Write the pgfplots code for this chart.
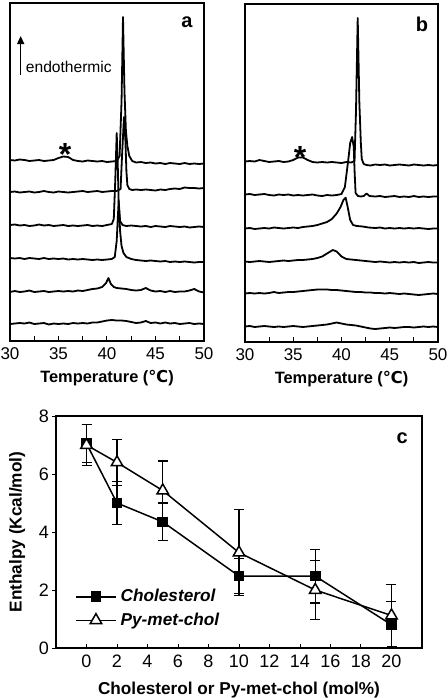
\documentclass[border=0pt]{standalone}
\usepackage{fontspec}
\setmainfont{Liberation Sans}
\newfontfamily\dejavu{DejaVu Sans}
\usepackage{pgfplots}
\pgfplotsset{compat=1.18}
\usetikzlibrary{arrows.meta}

\begin{document}
\begin{tikzpicture}
\useasboundingbox (0,0) rectangle (224pt,-349pt);
\pgfplotsset{
 dsc/.style={scale only axis, width=97pt, height=169pt, xmin=30, xmax=50, ymin=0, ymax=338,
  xtick={30,35,40,45,50}, minor xtick={32.5,37.5,42.5,47.5}, ytick=\empty, xtick pos=bottom,
  tick align=inside, major tick length=2.5pt, minor tick length=2.5pt,
  axis line style={line width=0.6pt}, every tick/.style={line width=0.5pt, black},
  tick label style={font=\fontsize{8.5}{10}\selectfont}, /pgf/number format/assume math mode=true,
  xlabel={\textbf{Temperature ({\dejavu\bfseries ℃})}}, xlabel style={font=\fontsize{8.2}{10}\selectfont, yshift=2pt},
  every axis plot post/.append style={black, solid, line width=0.9pt, line join=round, mark=none}},
}
% ---------------- panel a
\begin{axis}[dsc, at={(5pt,-170.5pt)}, anchor=south west]
\addplot coordinates {(30,181) (30.5,180.5) (31,181.5) (31.5,181) (32,180) (32.5,180.5) (33,181) (33.5,180) (34,180.5) (34.5,181) (35,183) (35.5,184.5) (36,184) (36.5,181) (37,180) (37.5,179.5) (38,180.5) (38.5,180) (39,179.5) (39.5,180) (40,179) (40.5,179.5) (41,180) (41.3,185) (41.5,240) (41.65,324) (41.8,250) (41.95,210) (42.1,195) (42.3,185) (42.6,180) (43,178.5) (43.5,179) (44,178) (44.5,178.5) (45,177.5) (45.5,178) (46,177) (46.5,178) (47,177.5) (47.5,177) (48,178) (48.5,177) (49,177.5) (49.5,177) (50,177.5)};
\addplot coordinates {(30,149) (30.5,149.5) (31,148.5) (31.5,149) (32,149.5) (32.5,148.5) (33,149) (33.5,150) (34,149) (34.5,148.5) (35,149.5) (35.5,149) (36,148.5) (36.5,149) (37,149.5) (37.5,150) (38,149) (38.5,149.5) (39,150) (39.5,149) (40,149.5) (40.5,150) (41,150) (41.4,152) (41.55,185) (41.75,224) (41.9,200) (42.0,170) (42.1,156) (42.3,152) (42.6,151) (43,151.5) (43.5,151) (44,151.5) (44.5,151) (45,150.5) (45.5,151.5) (46,151) (46.5,152) (47,152.5) (47.5,152) (48,153.5) (48.5,153) (49,153) (49.5,152.5) (50,153)};
\addplot coordinates {(30,116) (30.5,116.5) (31,115.5) (31.5,116) (32,115) (32.5,115.5) (33,116.5) (33.5,115.5) (34,116) (34.5,115) (35,115.5) (35.5,116) (36,115) (36.5,115.5) (37,115) (37.5,115.5) (38,116) (38.5,115) (39,115.5) (39.5,115) (40,116) (40.5,117) (40.7,122) (40.85,160) (41.0,208) (41.1,180) (41.2,140) (41.35,120) (41.6,116) (42,115) (42.5,115.5) (43,115) (43.5,114.5) (44,115) (44.5,114) (45,115) (45.5,114.5) (46,114) (46.5,115) (47,114.5) (47.5,114) (48,114.5) (48.5,113.5) (49,114) (49.5,114.5) (50,114)};
\addplot coordinates {(30,83) (30.5,82.5) (31,83) (31.5,82) (32,83) (32.5,82.5) (33,82) (33.5,83) (34,82) (34.5,82.5) (35,82) (35.5,82.5) (36,81.5) (36.5,82) (37,81.5) (37.5,82) (38,81.5) (38.5,81) (39,81.5) (39.5,81) (40,81.5) (40.5,82) (40.8,84) (41.0,100) (41.2,140) (41.35,110) (41.5,95) (41.7,88) (42,84) (42.5,82) (43,81) (43.5,80.5) (44,80) (44.5,80.5) (45,80) (45.5,79.5) (46,80) (46.5,79) (47,79.5) (47.5,79) (48,79.5) (48.5,79) (49,78.5) (49.5,79) (50,79)};
\addplot coordinates {(30,49) (30.5,50) (31,49) (31.5,49.5) (32,50.5) (32.5,49) (33,49.5) (33.5,50) (34,49) (34.5,49.5) (35,50) (35.5,49.5) (36,50) (36.5,49.5) (37,50.5) (37.5,50) (38,51) (38.5,52) (39,52.5) (39.5,54) (39.9,58) (40.15,63) (40.4,57) (40.7,54) (41,53) (41.5,52.5) (42,52) (42.5,51) (43,50.5) (43.5,51) (44,53) (44.5,50.5) (45,49.5) (45.5,50) (46,49) (46.5,50) (47,49) (47.5,49.5) (48,49.5) (48.5,50.5) (49,52) (49.5,49.5) (50,48.5)};
\addplot coordinates {(30,17) (30.5,17.5) (31,18) (31.5,17.5) (32,18.5) (32.5,17) (33,17.5) (33.5,18) (34,16.5) (34.5,17.5) (35,17) (35.5,17.5) (36,17) (36.5,18) (37,17.5) (37.5,18) (38,17.5) (38.5,18.5) (39,18.5) (39.5,19.5) (40,20.5) (40.5,21) (41,20.5) (41.5,20.5) (42,20) (42.5,19) (43,18) (43.5,18.5) (44,20) (44.5,18) (45,18.5) (45.5,17.5) (46,18.5) (46.5,17.5) (47,18) (47.5,17) (48,17.5) (48.5,18) (49,17) (49.5,17.5) (50,17)};
\draw[line width=0.8pt, -{Triangle[length=4pt,width=3.5pt]}] (axis cs:31.1,266) -- (axis cs:31.1,305);
\node[anchor=base west, inner sep=0pt, font=\fontsize{7.8}{9}\selectfont] at (axis cs:31.6,269) {endothermic};
\node[font=\fontsize{10}{12}\selectfont\bfseries] at (axis cs:48.25,319) {a};
\node[font=\fontsize{16}{16}\selectfont\bfseries] at (axis cs:35.67,187) {*};
\end{axis}
% ---------------- panel b
\begin{axis}[dsc, width=96.5pt, at={(122.5pt,-171pt)}, anchor=south west]
\addplot coordinates {(30,180.5) (30.5,181) (31,180.5) (31.5,182) (32,181) (32.5,180) (33,180.5) (33.5,181) (34,180) (34.5,180.5) (35,182) (35.5,184.5) (36,184.5) (36.5,182) (37,180) (37.5,179.5) (38,180) (38.5,179.5) (39,180) (39.5,179.5) (40,179) (40.5,180) (41,179.5) (41.35,181) (41.5,230) (41.68,324) (41.85,240) (42.0,200) (42.1,183) (42.3,178) (42.6,177) (43,176.5) (43.5,177.5) (44,177) (44.5,177.5) (45,176.5) (45.5,177) (46,177.5) (46.5,177) (47,176.5) (47.5,177.5) (48,177) (48.5,176.5) (49,177) (49.5,176.5) (50,177)};
\addplot coordinates {(30,147.5) (30.5,148) (31,147) (31.5,147.5) (32,148) (32.5,147) (33,146.5) (33.5,147.5) (34,147) (34.5,147.5) (35,146.5) (35.5,147) (36,146.5) (36.5,147) (37,147.5) (37.5,146.5) (38,146) (38.5,147) (39,146.5) (39.5,147) (40,148) (40.35,155) (40.7,182) (40.9,199) (41.1,205) (41.27,195) (41.36,170) (41.46,149) (41.7,146) (42,145.5) (42.3,146) (42.6,148.5) (42.9,146) (43.5,145.5) (44,146) (44.5,145) (45,145.5) (45.5,146) (46,145) (46.5,145.5) (47,145) (47.5,146) (48,145) (48.5,145.5) (49,145) (49.5,145.5) (50,145.5)};
\addplot coordinates {(30,113.5) (30.5,114) (31,113) (31.5,113.5) (32,114) (32.5,113.5) (33,114.5) (33.5,114) (34,113.5) (34.5,114) (35,114.5) (35.5,114) (36,115) (36.5,115.5) (37,116) (37.5,117) (38,118.5) (38.5,120) (39,123) (39.5,128.5) (39.9,135) (40.2,142) (40.43,144.3) (40.64,135) (40.9,122) (41.2,117) (41.6,116) (42.2,115.5) (42.8,114.5) (43.5,114) (44,114.5) (44.5,113.5) (45,114) (45.5,113.5) (46,114) (46.5,113.5) (47,114) (47.5,113.5) (48,114) (48.5,113.5) (49,113) (49.5,113.5) (50,113.5)};
\addplot coordinates {(30,80.5) (30.5,80) (31,80.5) (31.5,81) (32,80.5) (32.5,80) (33,80.5) (33.5,81) (34,81.5) (34.5,81) (35,81.5) (35.5,82) (36,82) (36.5,82.5) (37,83) (37.5,84) (38,85.5) (38.5,88.5) (39.1,92) (39.5,90.5) (40,85.5) (40.5,83) (41,82.5) (41.5,82) (42,81.5) (42.5,81) (43,80.5) (43.5,80) (44,80.5) (44.5,80) (45,79.5) (45.5,80) (46,79.5) (46.5,80) (47,79.5) (47.5,80) (48,79) (48.5,79.5) (49,80) (49.5,79.5) (50,79.5)};
\addplot coordinates {(30,48.5) (30.5,49) (31,48.5) (31.5,49) (32,48.5) (32.5,49) (33,50) (33.5,49) (34,49.5) (34.5,50) (35,50) (35.5,50.5) (36,51) (36.5,51.5) (37,52) (37.5,52.5) (38,52.5) (38.5,52.5) (39,52) (39.5,52) (40,51.5) (40.5,51) (41,50.5) (41.5,50) (42,50) (42.5,49.5) (43,49.5) (43.5,49) (44,49) (44.5,48.5) (45,49) (45.5,48.5) (46,48) (46.5,48.5) (47,48) (47.5,47.5) (48,47) (48.5,47.5) (49,48) (49.5,48.5) (50,48)};
\addplot coordinates {(30,15.5) (30.5,16) (31,15) (31.5,15.5) (32,16) (32.5,15.5) (33,15) (33.5,15.5) (34,15) (34.5,15.5) (35,16) (35.5,15.5) (36,15) (36.5,15.5) (37,16) (37.5,16.5) (38,17) (38.5,17.5) (39,18.5) (39.5,19.5) (40,18.5) (40.5,17.5) (41,17) (41.5,16.5) (42,15.5) (42.5,14.5) (43,13.5) (43.5,13) (44,13.5) (44.5,14) (45,14.5) (45.5,14) (46,14.5) (46.5,15) (47,15) (47.5,14.5) (48,15) (48.5,15.5) (49,15) (49.5,15.5) (50,15)};
\node[font=\fontsize{10}{12}\selectfont\bfseries] at (axis cs:48.34,318) {b};
\node[font=\fontsize{16}{16}\selectfont\bfseries] at (axis cs:35.7,185) {*};
\end{axis}
% ---------------- panel c
\begin{axis}[at={(28pt,-324pt)}, anchor=south west, scale only axis, width=183pt, height=116pt,
  xmin=-2, xmax=22, ymin=0, ymax=8, xtick={0,2,...,20}, ytick={0,2,...,8},
  xtick pos=bottom, ytick pos=left, tick align=inside, major tick length=2pt,
  ytick style={xshift=-2pt},
  axis line style={line width=0.6pt}, every tick/.style={line width=0.5pt, black},
  tick label style={font=\fontsize{9}{10}\selectfont}, /pgf/number format/assume math mode=true,
  xlabel={Cholesterol or Py-met-chol (mol\%)}, ylabel={Enthalpy (Kcal/mol)},
  label style={font=\fontsize{8.6}{10}\selectfont\bfseries},
  legend style={at={(0.035,0.05)}, anchor=south west, draw=none, fill=none,
    font=\fontsize{8.6}{10}\selectfont\bfseries\itshape, row sep=0pt},
  legend cell align=left,
  legend image code/.code={\draw[mark repeat=2,mark phase=2,#1] plot coordinates {(0pt,0pt) (10pt,0pt) (20pt,0pt)};},
  error bars/error mark options={rotate=90, mark size=2.5pt, line width=0.6pt},
  error bars/error bar style={line width=0.6pt}]
\addplot[black, solid, line width=0.75pt, mark=square*, mark size=2.3pt, mark options={fill=black, solid},
  error bars/.cd, y dir=both, y explicit]
  coordinates {(0,7.05) +- (0,0.65) (2,5.0) +- (0,0.75) (5,4.35) +- (0,0.65) (10,2.48) +- (0,0.6) (15,2.48) +- (0,0.93) (20,0.8) +- (0,0.8)};
\addlegendentry{Cholesterol}
\addplot[black, solid, line width=0.75pt, mark=triangle*, mark size=3.3pt, mark options={fill=white, solid},
  error bars/.cd, y dir=both, y explicit]
  coordinates {(0,7.0) +- (0,0.7) (2,6.4) +- (0,0.8) (5,5.43) +- (0,1.02) (10,3.29) +- (0,1.48) (15,2.0) +- (0,1.03) (20,1.12) +- (0,1.08)};
\addlegendentry{Py-met-chol}
\node[font=\fontsize{10}{12}\selectfont\bfseries] at (axis cs:20.7,7.24) {c};
\end{axis}
\end{tikzpicture}
\end{document}
